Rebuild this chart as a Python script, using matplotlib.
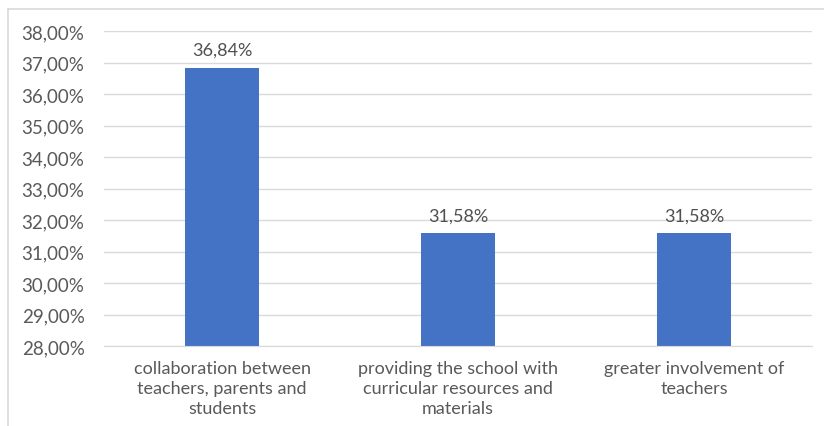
import matplotlib
matplotlib.use("Agg")
import matplotlib.pyplot as plt
from matplotlib.lines import Line2D
from matplotlib.ticker import FuncFormatter

categories = ["collaboration between\nteachers, parents and\nstudents",
              "providing the school with\ncurricular resources and\nmaterials",
              "greater involvement of\nteachers"]
values = [36.84, 31.58, 31.58]
ymin, ymax, ystep = 28, 38, 1

fam = ["Lato", "DejaVu Sans"]
plt.rcParams['font.family'] = fam
txt = "#595959"

fig = plt.figure(figsize=(8.24, 4.27), dpi=100)
ax = fig.add_axes([104/824, 1-347/427, (812-104)/824, (347-32)/427])

x = range(len(categories))
bars = ax.bar(x, [v - ymin for v in values], bottom=ymin, width=0.31, color="#4472C4", zorder=3)
for xi, v in zip(x, values):
    ax.text(xi, v + 0.3, f"{v:.2f}%".replace(".", ","), ha="center", va="bottom",
            fontsize=13, color="#505050")

ax.set_ylim(ymin, ymax)
ax.set_xlim(-0.5, len(categories) - 0.5)
ax.set_yticks(range(ymin, ymax + 1, ystep))
ax.yaxis.set_major_formatter(FuncFormatter(lambda v, p: f"{v:.2f}%".replace(".", ",")))
ax.set_xticks(list(x))
ax.set_xticklabels(categories, fontsize=13, color=txt, linespacing=1.32)
ax.tick_params(axis="y", labelsize=13.5, labelcolor=txt, length=0, pad=14)
ax.tick_params(axis="x", length=0, pad=10)
ax.grid(axis="y", color="#d9d9d9", linewidth=1, zorder=0)
for s in ["top", "right", "left"]:
    ax.spines[s].set_visible(False)
ax.spines["bottom"].set_color("#d9d9d9")
ax.spines["bottom"].set_zorder(4)

fig.add_artist(Line2D([8/824, 1], [1-10/427, 1-10/427], transform=fig.transFigure, color="#d9d9d9", linewidth=1.2))
fig.add_artist(Line2D([8/824, 8/824], [0, 1-10/427], transform=fig.transFigure, color="#d9d9d9", linewidth=1.2))

fig.savefig("out.png", dpi=100)
